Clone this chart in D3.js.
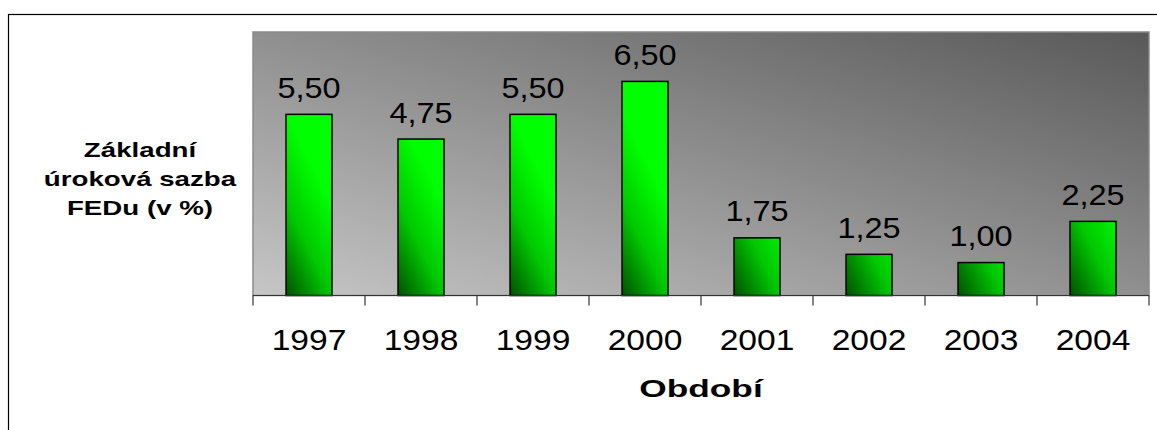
<!DOCTYPE html>
<html>
<head>
<meta charset="utf-8">
<script src="https://cdn.jsdelivr.net/npm/d3@7"></script>
<style>
  body { margin: 0; background: #fff; }
  text { font-family: "Liberation Sans", Arial, sans-serif; fill: #000; }
</style>
</head>
<body>
<svg id="chart" width="1157" height="430"></svg>
<script>
// data
const years = ["1997", "1998", "1999", "2000", "2001", "2002", "2003", "2004"];
const rates = [5.50, 4.75, 5.50, 6.50, 1.75, 1.25, 1.00, 2.25];
const titleLines = ["Základní", "úroková sazba", "FEDu (v %)"];
const xTitle = "Období";

const svg = d3.select("#chart");
const plot = {left: 253, right: 1149, top: 32, bottom: 295.5};

// the source draws its fonts wide, so scale glyphs horizontally
function wide(sel, k, cx, cy) {
    sel.attr("x", 0).attr("y", 0)
       .attr("transform", (d, i) => `translate(${cx(d, i)},${cy(d, i)}) scale(${k},1)`);
}

const defs = svg.append("defs");
let bg = defs.append("linearGradient").attr("id", "bgGrad")
    .attr("x1", 0).attr("y1", 1).attr("x2", 1).attr("y2", 0);
bg.append("stop").attr("offset", 0).attr("stop-color", "#c6c6c6");
bg.append("stop").attr("offset", 1).attr("stop-color", "#595959");

// outer chart border (only top and left are inside the picture)
svg.append("rect")
    .attr("x", 8.5).attr("y", 14.5)
    .attr("width", 1300).attr("height", 600)
    .attr("fill", "none").attr("stroke", "#000").attr("stroke-width", 1.2);

const x = d3.scaleBand().domain(years).range([plot.left, plot.right]).padding(0);
const y = d3.scaleLinear().domain([0, 8]).range([plot.bottom, plot.top]);
const barW = x.bandwidth() * 0.41;
const barX = (d, i) => x(years[i]) + (x.bandwidth() - barW) / 2;

// one gradient per bar, from the bottom-left corner, shallow angle
defs.selectAll("linearGradient.bar")
    .data(rates)
    .enter().append("linearGradient")
    .attr("class", "bar")
    .attr("id", (d, i) => "barGrad" + i)
    .attr("gradientUnits", "userSpaceOnUse")
    .attr("x1", (d, i) => barX(d, i)).attr("y1", y(0))
    .attr("x2", (d, i) => barX(d, i) + barW * 1.6).attr("y2", y(0) - barW * 0.8)
    .each(function() {
        let g = d3.select(this);
        g.append("stop").attr("offset", 0).attr("stop-color", "#005000");
        g.append("stop").attr("offset", 0.5).attr("stop-color", "#00c800");
        g.append("stop").attr("offset", 1).attr("stop-color", "#00ff00");
    });

// plot area
svg.append("rect")
    .attr("x", plot.left).attr("y", plot.top)
    .attr("width", plot.right - plot.left).attr("height", plot.bottom - plot.top)
    .attr("fill", "url(#bgGrad)")
    .attr("stroke", "#8a8a8a").attr("stroke-width", 1.5);

// bars
svg.selectAll("rect.bar")
    .data(rates)
    .enter().append("rect")
    .attr("class", "bar")
    .attr("x", barX)
    .attr("y", d => y(d))
    .attr("width", barW)
    .attr("height", d => y(0) - y(d))
    .attr("fill", (d, i) => `url(#barGrad${i})`)
    .attr("stroke", "#000").attr("stroke-width", 1.5);

// value labels
const fmt = v => d3.format(".2f")(v).replace(".", ",");
svg.selectAll("text.val")
    .data(rates)
    .enter().append("text")
    .attr("class", "val")
    .attr("text-anchor", "middle")
    .style("font-size", "29px")
    .text(fmt)
    .call(wide, 1.12, (d, i) => x(years[i]) + x.bandwidth() / 2, d => y(d) - 16.5);

// x axis: line, boundary ticks and labels
const axis = svg.append("g").attr("transform", `translate(0,${plot.bottom})`);
axis.call(d3.axisBottom(x).tickSize(0).tickPadding(0))
    .call(g => g.select(".domain").remove());
axis.selectAll(".tick text")
    .attr("dy", null)
    .style("font-size", "30px")
    .style("font-family", "'Liberation Sans', Arial, sans-serif")
    .attr("fill", "#000")
    .call(wide, 1.12, () => 0, () => 54.5);
axis.append("line")
    .attr("x1", plot.left).attr("x2", plot.right)
    .attr("stroke", "#333").attr("stroke-width", 1.2);
axis.selectAll("line.bound")
    .data(years.map(c => x(c)).concat([plot.right]))
    .enter().append("line")
    .attr("class", "bound")
    .attr("x1", d => d).attr("x2", d => d)
    .attr("y1", 0).attr("y2", 10)
    .attr("stroke", "#333").attr("stroke-width", 1.2);

// axis titles
svg.selectAll("text.ytitle")
    .data(titleLines)
    .enter().append("text")
    .attr("class", "ytitle")
    .attr("text-anchor", "middle")
    .style("font-size", "19.5px")
    .style("font-weight", "bold")
    .text(d => d)
    .call(wide, 1.42, () => 140, (d, i) => 157 + i * 29);

svg.append("text")
    .datum(xTitle)
    .attr("text-anchor", "middle")
    .style("font-size", "24.5px")
    .style("font-weight", "bold")
    .text(d => d)
    .call(wide, 1.44, () => (plot.left + plot.right) / 2, () => 397);
</script>
</body>
</html>
